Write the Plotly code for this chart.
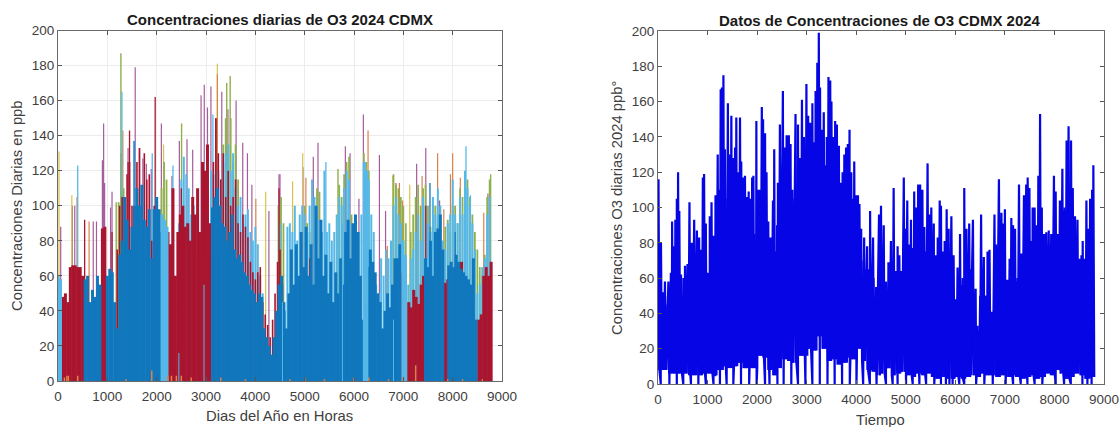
import plotly.graph_objects as go

# ---------- Right panel: daily highs, lows and the near-zero readings ----------
o3_peak_hours = [10,60,95,140,210,260,285,325,350,380,405,430,465,515,545,595,635,680,730,785,830,870,905,930,965,1005,1025,1045,1080,1120,1135,1160,1205,1230,1265,1290,1320,1350,
 1410,1445,1480,1515,1555,1580,1615,1655,1680,1715,1755,1795,1830,1865,1900,1925,1960,1985,2015,2055,2095,2120,2160,2190,2225,2270,2320,2345,2385,2420,2460,
 2520,2560,2595,2640,2675,2710,2775,2825,2865,2905,2945,2995,3030,3070,3115,3150,3180,3215,3245,3270,3305,3345,3380,3405,3440,3475,3500,3540,3575,3610,3650,3685,3725,3760,3795,3830,3865,3900,3930,3960,3995,4035,4065,4100,4160,4220,4280,4340,4380,4460,
 4500,4555,4600,4620,4650,4700,4755,4800,4835,4870,4905,4960,4985,5030,5065,5105,5140,5170,5210,5250,5290,5335,5375,5440,5475,5515,5565,5610,5645,5685,5710,5760,5785,5825,5865,5920,5965,6005,6045,6095,6135,6180,6225,6280,6355,6410,6450,6480,6520,6575,6620,6650,6690,6740,6790,
 6820,6880,6930,6960,7000,7050,7070,7095,7130,7165,7205,7240,7285,7330,7385,7430,7460,7495,7535,7560,7600,7640,7675,7710,7745,7790,7835,7885,7935,7990,8025,8070,8110,8160,8205,8245,8285,8335,8370,8415,8465,8515,8545,8570,8610,8645,8685,8720,8760,8785]
o3_peak_values = [116,80,52,58,58,63,92,78,93,105,120,98,62,60,67,68,103,80,93,87,83,76,117,119,91,63,56,95,103,84,62,107,130,110,167,168,175,133,
 159,130,152,128,134,151,120,151,126,117,118,106,109,105,117,118,80,149,110,110,157,150,142,120,92,83,104,133,75,114,147,
 166,134,141,141,136,110,153,147,128,161,140,170,152,148,159,137,166,182,199,168,144,154,124,140,174,172,160,140,149,147,135,114,120,130,134,136,144,120,105,126,107,107,102,88,83,78,98,83,41,96,
 101,90,58,35,69,81,111,64,78,73,64,117,88,104,79,93,77,109,100,113,113,110,89,125,96,100,91,73,83,104,101,71,81,99,88,95,73,48,66,85,56,111,88,91,93,54,33,28,96,72,50,75,76,41,96,
 79,116,97,91,99,59,35,71,94,90,88,58,113,74,107,113,117,111,81,100,100,90,118,153,100,85,86,87,85,118,109,85,104,122,98,138,146,138,111,95,93,71,73,81,71,104,88,105,110,124]
# lowest reading in each 100-hour bin
o3_low_bins = [8,8,6,6,6,6,5,5,5,6,6,5,8,10,9,10,12,9,9,9,16,15,8,5,9,14,13,12,16,16,20,19,27,20,13,14,11,12,15,14,20,13,8,7,5,6,9,5,6,7,5,4,6,5,6,4,3,4,3,3,4,3,4,5,4,6,5,5,4,5,4,5,4,3,4,5,3,4,6,5,8,6,3,4,6,5,3,4]
# typical daily high in each 100-hour bin (the solid body of the trace)
o3_body_bins = [60,45,50,55,55,50,55,60,60,65,55,60,90,100,105,100,95,90,90,85,95,100,75,75,90,105,105,105,110,115,115,120,125,110,115,105,100,95,95,90,80,70,65,60,55,55,40,60,55,60,70,75,85,75,75,70,70,75,70,65,45,60,70,65,30,50,50,40,70,75,45,65,60,70,85,75,70,75,70,70,80,80,100,100,70,55,60,85]
o3_zero_hours = [55,230,380,510,665,815,965,1120,1250,1385,1520,1675,1840,1990,2160,2250,2410,2535,2690,2825,2975,3115,3265,3420,3565,3715,3870,4005,4140,4275,4410,4600,4735,4835,5005,5140,5275,5410,5575,5710,5810,5880,5945,6080,6180,6420,6585,6755,7015,7165,7320,7455,7600,7755,8025,8195,8330,8565,8665,8750]

# ---------- Left panel: one block of readings per layer, 50 h apart ----------
STEP = 50
blue_blocks = [
 (550, [58,60,45,52,48,60,55]),
 (1000, [60,64,62,45,30,72,80,105,92,75,88,100,110,100,112,92,88,98,70,98,105,98,85]),
 (3130, [99,105,110,100,90,88,80,85,95,75,70,72,68,62,60,55,52,50,45,50,48,30,25,20,15,25,40,55,60,45,30,50,75,55,78,60,85,65,88,60,78,55,100,70,92,60,72,50,68,45,62,50,70,55,85,92,70,90,95,85,60,35,45,65,58]),
 (6330, [75,68,62,50,45,30,40,50,42,55,70,70,78]),
 (7450, [70,65,80,60,85,87,95,75]),
 (7920, [66,68,65,72,68,64,62,60,58,55,70,35]),
]
red_blocks = [
 (100, [48,50,45,65,66,66,65,65,60]),
 (900, [87,88]),
 (2230, [85,78,110,60,85,95,100,88,90,80,105,95,110,85,125,120,135,90]),
 (6940, [60,62]),
 (7110, [45,42,52,48,44,55,60]),
 (7850, [56,58]),
 (8180, [68]),
 (8530, [35,38,60,65,60,68]),
]
red_tip_blocks = [
 (1200, [75,100,105,100,118,125,100,90,125,133,110,130,115,118,80,100,90,82]),
 (3150, [125,150,130,115,130,105,120,100,105,115,90,85,95,88,82,68,62,58,62,65,45,38,32,25,35,50,68,75,55]),
]
cyan_blocks = [
 (0, [60,58]),
 (2110, [95,92,88]),
 (6990, [80,72]),
 (6210, [125,120]),
]
cyan_tip_blocks = [
 (2450, [90,115,128,118,110,95,100]),
 (3100, [120,118,110,120,115,125,130,135,120,130,110,100,105,90,95,98,85,80,88,78,60,50]),
 (4500, [90,55,40,88,90,85,100,80,95,100,95,85,100,115,105,100,92,85,120,85,90,80,85,95,105,100,110,120,115,90,50,60,85,95,125,120,115,95,85,55,50,70,60,75,70,80,100,105,95,90,80,70,55,70,75,85,95,80,105,100,90,85,105,95,110,100,80,75,90,95,115,95,90,105,95,120,110,100,90,75,50,55,65,70,95,105]),
]
green_blocks = [
 (1230, [102,130,110]),
 (2100, [110,125,115]),
 (3350, [135,150,130,150,125,135,115]),
 (4470, [100,105,90]),
 (5000, [100,90,85,100,100,110,108]),
 (5700, [112,105,118,125,128,95,60,62]),
 (6200, [130,125,120]),
 (6800, [118,112,110,105,100,90]),
 (7150, [85,95,105,112,100,110,112,100,88,95,100,90,80,75,88,92,85,100,100,90,110,105,115,115,105,95,85,75,65,60,72,105,115]),
]
purple_hours = [55,290,340,715,780,900,925,945,1065,1095,1420,1565,1655,1720,1790,1890,2095,2310,2460,2615,2730,2900,2965,3030,3100,3320,3445,3610,3745,3840,3930,4275,4480,4500,4965,5175,5270,5825,5920,6100,6190,6515,6640,6850,7270,7455,7735,8715]
purple_values = [88,100,100,91,91,126,147,113,99,108,133,179,133,127,124,121,147,117,137,138,132,163,169,156,168,165,155,160,136,130,112,97,118,118,122,128,136,134,130,104,152,129,97,113,124,133,103,107]
orange_hours = [150,385,630,1315,3230,4010,5025,6285,6675,6920,6985,7380,7615,7695,7820,7955,8000,8155,8630]
orange_values = [48,105,91,143,175,104,116,143,77,113,103,117,100,130,98,118,130,116,96]
yellow_hours = [20,280,2140,3230,4210,4755,4960,6785,7130]
yellow_values = [131,106,135,181,108,114,130,117,112]
green_hours = [1180,1275,2505,3420,3490,5675,8770]
green_values = [102,187,147,170,174,121,118]
cyan_hours = [400,1295,1555,1910,2330,3140,5430,8270,8360]
cyan_values = [123,165,137,130,123,152,125,134,106]
red_hours = [540,1095,1420,1450,1970,2500,3200,4480,5100,7455]
red_values = [92,85,125,143,162,110,150,110,70,100]
blue_hours = [1540,7540,8050]
blue_values = [137,113,85]
sliver_hours = [2450,2960,4550,5765,6800]
sliver_values = [16,55,45,90,35]
floor_hours = [130,180,210,400,1380,1900,2230,2300,2400,2500,2700,3300,3800,4700,5000,5400,6000,6300,6700,7000,7250,7900,8200,8600]
floor_values = [2,3,3,3,1,6,3,3,3,3,2,2,1,1,2,1,2,2,1,2,9,1,1,1]

BLUE, RED, CYAN, GREEN = "#1177bd", "#a9152f", "#55b8e8", "#8fb04f"
PURPLE, ORANGE, YELLOW = "#a45c9c", "#d9824a", "#d8c24e"
GRAY = "#404040"

def spikes(hours, values):
    xs, ys = [], []
    for h, v in zip(hours, values):
        xs += [h, h, None]
        ys += [0, v, None]
    return xs, ys

def from_blocks(blocks):
    hours, values = [], []
    for start, vals in blocks:
        hours += [start + i * STEP for i in range(len(vals))]
        values += vals
    return hours, values

fig = go.Figure()

def add_left(hours, values, color, width):
    x, y = spikes(hours, values)
    fig.add_trace(go.Scatter(x=x, y=y, mode="lines", xaxis="x", yaxis="y", showlegend=False,
                             line=dict(color=color, width=width), hoverinfo="skip"))

add_left(purple_hours, purple_values, PURPLE, 1.2)
add_left(yellow_hours, yellow_values, YELLOW, 1.2)
add_left(orange_hours, orange_values, ORANGE, 1.2)
add_left(green_hours, green_values, GREEN, 1.4)
add_left(*from_blocks(green_blocks), GREEN, 1.8)
add_left(cyan_hours, cyan_values, CYAN, 1.3)
add_left(*from_blocks(cyan_tip_blocks), CYAN, 2.0)
add_left(red_hours, red_values, RED, 1.3)
add_left(*from_blocks(red_tip_blocks), RED, 1.6)
add_left(*from_blocks(red_blocks), RED, 3)
add_left(blue_hours, blue_values, BLUE, 1.3)
add_left(*from_blocks(blue_blocks), BLUE, 3)
add_left(*from_blocks(cyan_blocks), CYAN, 3)
add_left(sliver_hours, sliver_values, CYAN, 1)
add_left(floor_hours, floor_values, ORANGE, 1.5)

# right panel, body first: that bin's typical high alternating with its low
BIN = 100
body_x, body_y = [], []
for i, (top, low) in enumerate(zip(o3_body_bins, o3_low_bins)):
    body_x += [i * BIN, i * BIN + 25, i * BIN + 50, i * BIN + 75]
    body_y += [top, low, top, low]
fig.add_trace(go.Scatter(x=body_x, y=body_y, mode="lines", xaxis="x2", yaxis="y2", showlegend=False,
                         line=dict(color="#0505e6", width=2), hoverinfo="skip"))

# then the series itself: each high, that bin's low, plus the near-zero readings
points = []
for h, v in zip(o3_peak_hours, o3_peak_values):
    points.append((h, v))
    points.append((h + 18, o3_low_bins[min(h // BIN, len(o3_low_bins) - 1)]))
points += [(h, 0) for h in o3_zero_hours]
points.sort()
fig.add_trace(go.Scatter(x=[p[0] for p in points], y=[p[1] for p in points], mode="lines",
                         xaxis="x2", yaxis="y2", showlegend=False,
                         line=dict(color="#0505e6", width=2.2), hoverinfo="skip"))

W, H = 1120, 427
def xdom(a, b): return [a / W, b / W]
def ydom(top, bot): return [1 - bot / H, 1 - top / H]

tick_font = dict(family="Liberation Sans, Arial", size=13.5, color=GRAY)
title_font = dict(family="Liberation Sans, Arial", size=15, color="#1a1a1a")
label_font = dict(family="Liberation Sans, Arial", size=14.8, color=GRAY)

def axis(domain, grid, anchor, rng, dtick, standoff):
    return dict(domain=domain, anchor=anchor, range=rng, dtick=dtick, tick0=0, automargin=False,
                showline=True, linecolor="#6a6a6a", linewidth=1, mirror="ticks",
                ticks="inside", ticklen=4, tickcolor="#555555", tickwidth=1, ticklabelstandoff=standoff,
                showgrid=grid, gridcolor="#ececec", gridwidth=1, zeroline=False, tickfont=tick_font)

def text(label, px, py, font, angle=0):
    return dict(text=label, x=px / W, y=1 - py / H, xref="paper", yref="paper", showarrow=False,
                font=font, xanchor="center", yanchor="middle", textangle=angle)

fig.update_layout(
    width=W, height=H, margin=dict(l=0, r=0, t=0, b=0), autosize=False,
    paper_bgcolor="white", plot_bgcolor="white", showlegend=False,
    xaxis=axis(xdom(58, 502), True, "y", [0, 9000], 1000, 3),
    yaxis=axis(ydom(30.5, 381), True, "x", [0, 200], 20, 0),
    xaxis2=axis(xdom(658, 1104), False, "y2", [0, 9000], 1000, 3),
    yaxis2=axis(ydom(31, 384), False, "x2", [0, 200], 20, 0),
    annotations=[
        text("<b>Concentraciones diarias de O3 2024 CDMX</b>", 280, 19, title_font),
        text("<b>Datos de Concentraciones de O3 CDMX 2024</b>", 880, 20, title_font),
        text("Dias del Año en Horas", 279, 416, label_font),
        text("Tiempo", 880, 420, label_font),
        text("Concentraciones Diarias en ppb", 17, 206, label_font, -90),
        text("Concentraciones O3 diarias 2024 ppb°", 617, 208, label_font, -90),
    ],
)

fig.write_html("out.html", config=dict(displayModeBar=False, staticPlot=True),
               post_script="document.body.style.margin='0';")
